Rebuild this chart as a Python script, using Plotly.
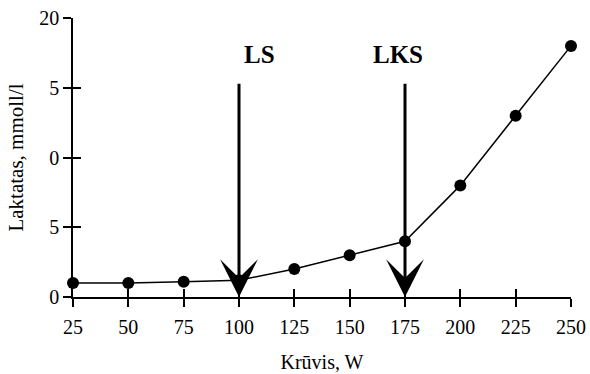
import plotly.graph_objects as go

load_w = [25, 50, 75, 100, 125, 150, 175, 200, 225, 250]
lactate = [1.0, 1.0, 1.1, 1.2, 2.0, 3.0, 4.0, 8.0, 13.0, 18.0]
x_ticks = [25, 50, 75, 100, 125, 150, 175, 200, 225, 250]
y_ticks = [0, 5, 10, 15, 20]
y_tick_text = ["0", "5", "0", "5", "20"]
arrow_names = ["LS", "LKS"]
arrow_x = [100, 175]
label_shift = [20, -7]
arrow_top = 15.4
label_y = 17.4

FONT = "Liberation Serif"

fig = go.Figure()
fig.add_trace(go.Scatter(
    x=load_w, y=lactate, mode="lines+markers",
    line=dict(color="black", width=1.5),
    marker=dict(color="black", size=12),
    cliponaxis=False, showlegend=False, hoverinfo="skip"))
# helper trace for inner tick axes
fig.add_trace(go.Scatter(x=[load_w[0]], y=[lactate[0]], xaxis="x2", yaxis="y2",
                         mode="markers", marker=dict(opacity=0), showlegend=False,
                         hoverinfo="skip"))

for name, xv, sh in zip(arrow_names, arrow_x, label_shift):
    fig.add_annotation(x=xv, y=0, ax=xv, ay=arrow_top, xref="x", yref="y",
                       axref="x", ayref="y", showarrow=True, arrowhead=3,
                       arrowwidth=3, arrowsize=2.1, arrowcolor="black", text="")
    fig.add_annotation(x=xv, y=label_y, xref="x", yref="y", text="<b>%s</b>" % name,
                       xshift=sh, showarrow=False,
                       font=dict(family=FONT, size=25, color="black"))

common_x = dict(range=[25, 250], tickvals=x_ticks, showgrid=False, zeroline=False,
                automargin=False,
                linecolor="black", linewidth=1.5, tickcolor="black", tickwidth=1.5, ticklen=8)
common_y = dict(range=[0, 20], tickvals=y_ticks, showgrid=False, zeroline=False,
                automargin=False,
                linecolor="black", linewidth=1.5, tickcolor="black", tickwidth=1.5, ticklen=8)

fig.update_layout(
    width=590, height=374,
    margin=dict(l=73, r=19, t=18, b=77),
    paper_bgcolor="white", plot_bgcolor="white",
    font=dict(family=FONT, size=20, color="black"),
    xaxis=dict(**common_x, ticks="outside", showline=True,
               ticktext=[str(v) for v in x_ticks], ticklabelstandoff=3,
               tickfont=dict(family=FONT, size=20, color="black"),
               title=dict(text="Krūvis, W", font=dict(family=FONT, size=20, color="black"),
                          standoff=18)),
    yaxis=dict(**common_y, ticks="outside", showline=True, ticktext=y_tick_text,
               tickfont=dict(family=FONT, size=20, color="black"),
               title=dict(text="Laktatas, mmoll/l", font=dict(family=FONT, size=21, color="black"),
                          standoff=10)),
    xaxis2=dict(**common_x, ticks="inside", showline=False, showticklabels=False,
                overlaying="x", anchor="y2", side="bottom"),
    yaxis2=dict(**common_y, ticks="inside", showline=False, showticklabels=False,
                overlaying="y", anchor="x2", side="left"),
)

fig.write_html("out.html")
